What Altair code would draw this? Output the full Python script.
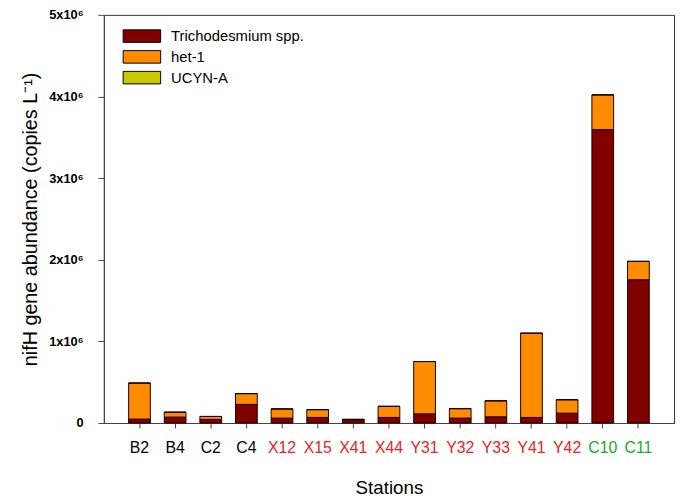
import altair as alt
import pandas as pd

stations = ["B2", "B4", "C2", "C4", "X12", "X15", "X41", "X44",
            "Y31", "Y32", "Y33", "Y41", "Y42", "C10", "C11"]
trich = [0.048e6, 0.072e6, 0.044e6, 0.228e6, 0.060e6, 0.068e6, 0.040e6, 0.068e6,
         0.112e6, 0.060e6, 0.076e6, 0.068e6, 0.120e6, 3.594e6, 1.755e6]
total = [0.489e6, 0.132e6, 0.080e6, 0.360e6, 0.172e6, 0.164e6, 0.044e6, 0.204e6,
         0.753e6, 0.176e6, 0.272e6, 1.100e6, 0.285e6, 4.020e6, 1.980e6]
het1 = [t - s for t, s in zip(total, trich)]
ucyn = [0.0] * len(stations)

series = ["Trichodesmium spp.", "het-1", "UCYN-A"]
colors = ["#800000", "#ff8c00", "#c8c800"]
y_ticks = [0, 1e6, 2e6, 3e6, 4e6, 5e6]

rows = []
for i, st in enumerate(stations):
    for k, (name, vals) in enumerate(zip(series, [trich, het1, ucyn])):
        rows.append({"station": st, "series": name, "value": vals[i], "order": k})
df = pd.DataFrame(rows)

label_color = ("indexof(['B2','B4','C2','C4'], datum.value) >= 0 ? 'black' : "
               "(indexof(['C10','C11'], datum.value) >= 0 ? '#22aa22' : '#ee2222')")

chart = alt.Chart(df).mark_bar(stroke="#1a0000", strokeWidth=1).encode(
    x=alt.X("station:N", sort=stations,
            scale=alt.Scale(paddingInner=0.39, paddingOuter=0.695),
            axis=alt.Axis(title="Stations", labelAngle=0, labelFontSize=16,
                          labelFont="Liberation Sans", labelColor=alt.expr(label_color),
                          labelPadding=12, tickSize=5, tickColor="#444444",
                          domainColor="#444444", titleFontSize=19,
                          titleFont="Liberation Sans", titleFontWeight="normal",
                          titlePadding=23, titleColor="black")),
    y=alt.Y("value:Q", stack="zero",
            scale=alt.Scale(domain=[0, 5e6], nice=False),
            axis=alt.Axis(values=y_ticks, grid=False,
                          labelExpr="datum.value == 0 ? '0' : format(datum.value/1e6, 'd') + 'x10\u2076'",
                          labelFont="Liberation Sans", labelFontWeight="bold",
                          labelFontSize=13, labelColor="black", labelPadding=15,
                          tickSize=6, tickColor="#444444", domainColor="#444444",
                          title="nifH gene abundance (copies L\u207b\u00b9)",
                          titleFont="Liberation Sans", titleFontWeight="normal",
                          titleFontSize=20, titlePadding=8, titleColor="black")),
    color=alt.Color("series:N", sort=series,
                    scale=alt.Scale(domain=series, range=colors),
                    legend=alt.Legend(title=None, orient="none", legendX=31, legendY=14,
                                      symbolType="M-3,-1H3V1H-3Z",
                                      symbolSize=160, symbolStrokeColor="black",
                                      symbolStrokeWidth=1, symbolOpacity=1,
                                      labelFont="Liberation Sans", labelFontSize=15,
                                      labelColor="black", labelOffset=22,
                                      rowPadding=4)),
    order=alt.Order("order:Q"),
).properties(
    width=577, height=413,
    autosize=alt.AutoSizeParams(type="none"),
    padding={"left": 97, "top": 4, "right": 3, "bottom": 78},
).configure_view(stroke="#333333", strokeWidth=1)

chart.save("out.html", embed_options={"renderer": "svg", "actions": False})
